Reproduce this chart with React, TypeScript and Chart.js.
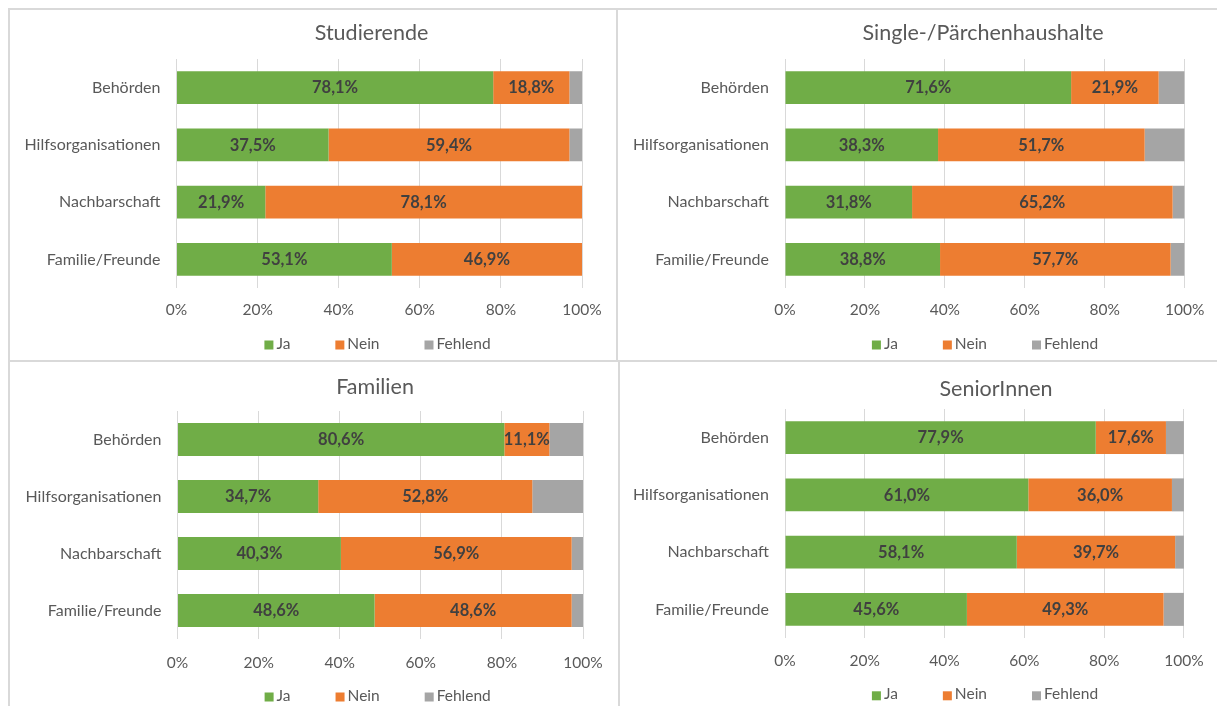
import React, { useEffect, useRef } from "react";
import { Chart, registerables } from "chart.js";

Chart.register(...registerables);

// ---------- data ----------
const categories = ["Behörden", "Hilfsorganisationen", "Nachbarschaft", "Familie/Freunde"];
const seriesNames = ["Ja", "Nein", "Fehlend"];
const seriesColors = ["#70AD47", "#ED7D31", "#A5A5A5"];
const xTickValues = [0, 20, 40, 60, 80, 100];

const panelTitles = ["Studierende", "Single-/Pärchenhaushalte", "Familien", "SeniorInnen"];

const studierendeJa = [78.1, 37.5, 21.9, 53.1];
const studierendeNein = [18.8, 59.4, 78.1, 46.9];
const studierendeFehlend = [3.1, 3.1, 0, 0];

const singleJa = [71.6, 38.3, 31.8, 38.8];
const singleNein = [21.9, 51.7, 65.2, 57.7];
const singleFehlend = [6.5, 10.0, 3.0, 3.5];

const familienJa = [80.6, 34.7, 40.3, 48.6];
const familienNein = [11.1, 52.8, 56.9, 48.6];
const familienFehlend = [8.3, 12.5, 2.8, 2.8];

const seniorenJa = [77.9, 61.0, 58.1, 45.6];
const seniorenNein = [17.6, 36.0, 39.7, 49.3];
const seniorenFehlend = [4.5, 3.0, 2.2, 5.1];

const panelSeries = [
  [studierendeJa, studierendeNein, studierendeFehlend],
  [singleJa, singleNein, singleFehlend],
  [familienJa, familienNein, familienFehlend],
  [seniorenJa, seniorenNein, seniorenFehlend],
];

// ---------- layout (page coordinates) ----------
const FONT = "Lato";
const TEXT = "#595959";
const GRID = "#D9D9D9";
const TICK_SIZE = 15.5;
const CAT_SIZE = 16;
const LEG_SIZE = 15.5;
const TITLE_SIZE = 21.5;
const VALUE_SIZE = 16.5;

type Spec = {
  left: number; top: number; width: number; height: number;
  aL: number; aR: number; aT: number; aB: number;
  titleX: number; titleY: number; tickY: number; legendX: number; legendY: number;
};

const specs: Spec[] = [
  { left: 10, top: 10, width: 606, height: 352, aL: 176.5, aR: 582, aT: 59, aB: 288, titleX: 371.5, titleY: 33.3, tickY: 310, legendX: 377.5, legendY: 343.5 },
  { left: 619, top: 10, width: 598, height: 352, aL: 785, aR: 1189, aT: 59, aB: 288, titleX: 983, titleY: 33.3, tickY: 310, legendX: 985, legendY: 343.5 },
  { left: 10, top: 362, width: 608, height: 352, aL: 177.5, aR: 583, aT: 411, aB: 639, titleX: 375, titleY: 387, tickY: 662.7, legendX: 377.7, legendY: 695.5 },
  { left: 620, top: 362, width: 597, height: 352, aL: 785, aR: 1189.5, aT: 409, aB: 638, titleX: 996, titleY: 389, tickY: 660.7, legendX: 985, legendY: 694.3 },
];

const valueLabels = {
  id: "valueLabels",
  afterDatasetsDraw(chart: any) {
    const ctx = chart.ctx;
    ctx.save();
    ctx.font = `bold ${VALUE_SIZE}px ${FONT}`;
    ctx.fillStyle = "#404040";
    ctx.textAlign = "center";
    ctx.textBaseline = "middle";
    chart.data.datasets.forEach((ds: any, di: number) => {
      if (di > 1) return;
      const meta = chart.getDatasetMeta(di);
      meta.data.forEach((el: any, i: number) => {
        const v = ds.data[i];
        if (!v) return;
        const p = el.getProps(["x", "base", "y"], true);
        ctx.fillText(v.toFixed(1).replace(".", ",") + "%", (p.x + p.base) / 2, p.y + 0.5);
      });
    });
    ctx.restore();
  },
};

// title and legend, drawn on the chart canvas
const panelDecor = {
  id: "panelDecor",
  afterDraw(chart: any, _args: any, opts: any) {
    const ctx = chart.ctx;
    ctx.save();
    ctx.fillStyle = TEXT;
    ctx.textBaseline = "middle";
    ctx.textAlign = "center";
    ctx.font = `${TITLE_SIZE}px ${FONT}`;
    ctx.fillText(opts.title, opts.titleX, opts.titleY);

    ctx.font = `${LEG_SIZE}px ${FONT}`;
    ctx.textAlign = "left";
    const box = 9;
    const gapText = 3;
    const gapItem = 45;
    const items = chart.data.datasets.map((ds: any) => ({
      text: ds.label,
      color: ds.backgroundColor,
      w: ctx.measureText(ds.label).width,
    }));
    const total =
      items.reduce((s: number, it: any) => s + box + gapText + it.w, 0) + gapItem * (items.length - 1);
    let x = opts.legendX - total / 2;
    items.forEach((it: any) => {
      ctx.fillStyle = it.color;
      ctx.fillRect(x, opts.legendY - box / 2 + 1.5, box, box);
      ctx.fillStyle = TEXT;
      ctx.fillText(it.text, x + box + gapText, opts.legendY);
      x += box + gapText + it.w + gapItem;
    });
    ctx.restore();
  },
};

function Panel({ idx }: { idx: number }) {
  const ref = useRef<HTMLCanvasElement>(null);
  const s = specs[idx];
  useEffect(() => {
    const canvas = ref.current;
    if (!canvas) return;
    const aL = s.aL - s.left;
    const aB = s.aB - s.top;
    const aT = s.aT - s.top;
    const tickC = s.tickY - s.top;
    const lh = TICK_SIZE * 1.2;
    const tickPad = tickC - aB - lh / 2;
    const xAxisH = tickPad + lh + 4;
    const padBottom = s.height - aB - xAxisH;

    const chart = new Chart(canvas, {
      type: "bar",
      data: {
        labels: categories,
        datasets: seriesNames.map((name, k) => ({
          label: name,
          data: panelSeries[idx][k],
          backgroundColor: seriesColors[k],
          borderWidth: 0,
          barPercentage: 0.576,
          categoryPercentage: 1,
        })),
      },
      plugins: [valueLabels, panelDecor],
      options: {
        indexAxis: "y",
        responsive: false,
        animation: false,
        devicePixelRatio: 1,
        layout: { padding: { left: 0, top: aT, right: s.width - (s.aR - s.left), bottom: padBottom } },
        scales: {
          x: {
            stacked: true,
            min: 0,
            max: 100,
            afterBuildTicks: (scale: any) => {
              scale.ticks = xTickValues.map((v) => ({ value: v }));
            },
            afterFit: (scale: any) => {
              scale.height = xAxisH;
            },
            ticks: {
              callback: (v: any) => v + "%",
              color: TEXT,
              font: { family: FONT, size: TICK_SIZE },
              padding: tickPad,
              maxRotation: 0,
              autoSkip: false,
            },
            grid: { color: GRID, lineWidth: 1, drawTicks: false },
            border: { display: false },
          },
          y: {
            stacked: true,
            afterFit: (scale: any) => {
              scale.width = aL;
            },
            ticks: {
              color: TEXT,
              font: { family: FONT, size: CAT_SIZE },
              padding: 16,
            },
            grid: { display: false, drawTicks: false },
            border: { display: false },
          },
        },
        plugins: {
          title: { display: false },
          legend: { display: false },
          tooltip: { enabled: false },
          panelDecor: {
            title: panelTitles[idx],
            titleX: s.titleX - s.left,
            titleY: s.titleY - s.top,
            legendX: s.legendX - s.left,
            legendY: s.legendY - s.top,
          },
        },
      } as any,
    });
    return () => chart.destroy();
  }, []);
  return (
    <canvas
      ref={ref}
      width={s.width}
      height={s.height}
      style={{ position: "absolute", left: s.left, top: s.top, width: s.width, height: s.height, display: "block" }}
    />
  );
}

const line = (left: number, top: number, width: number, height: number) => (
  <div style={{ position: "absolute", left, top, width, height, background: "#D9D9D9" }} />
);

export default function App() {
  return (
    <div style={{ position: "absolute", left: 0, top: 0, width: 1217, height: 706, overflow: "hidden", background: "#fff" }}>
      {line(8, 8, 1209, 2)}
      {line(8, 8, 2, 698)}
      {line(8, 360, 1209, 2)}
      {line(616, 8, 2, 353)}
      {line(618, 360, 2, 346)}
      {[0, 1, 2, 3].map((i) => (
        <Panel key={i} idx={i} />
      ))}
    </div>
  );
}
